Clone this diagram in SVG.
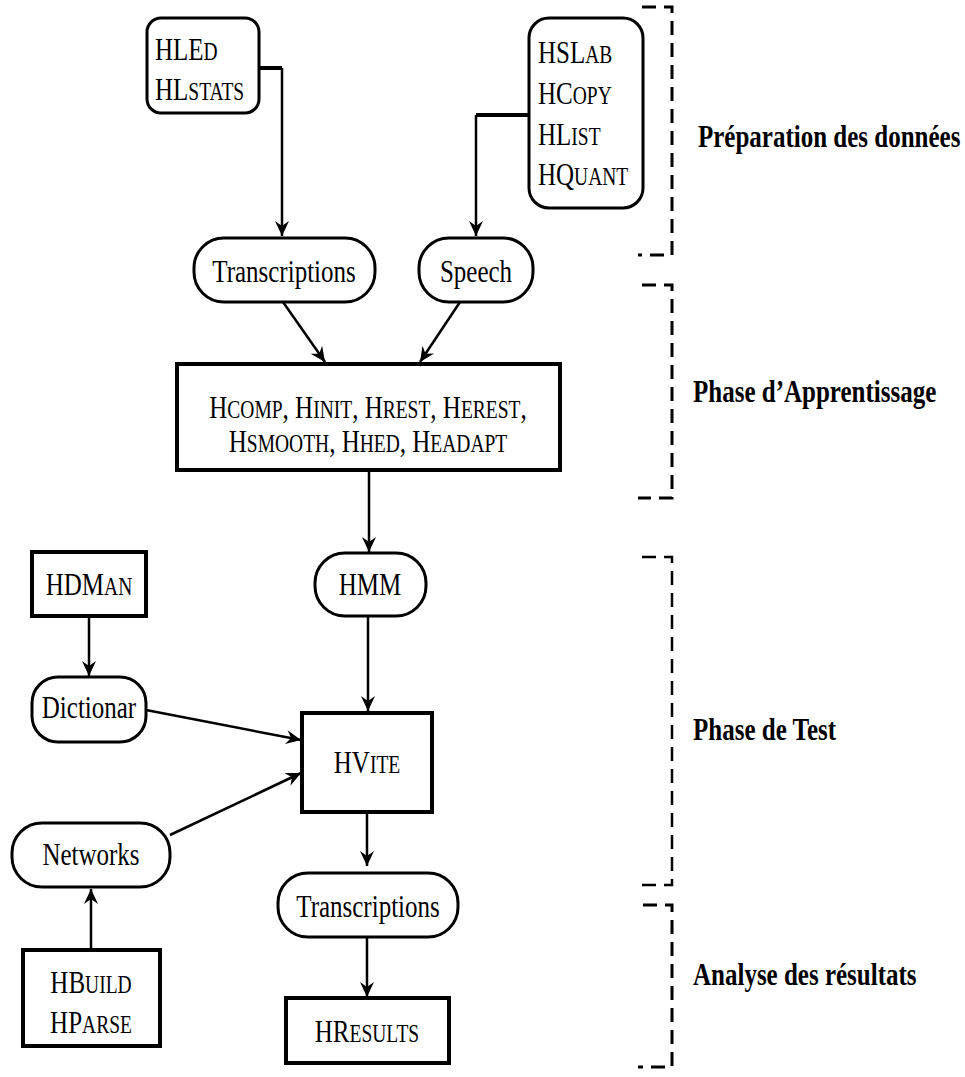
<svg xmlns="http://www.w3.org/2000/svg" width="965" height="1077" viewBox="0 0 965 1077">
<style>
.t{font-family:"Liberation Serif","Times New Roman",serif;font-size:25px;fill:#000}
.sc{font-size:19.5px}
.lbl{font-family:"Liberation Serif","Times New Roman",serif;font-weight:bold;font-size:25px;fill:#000}
.node{fill:#fff;stroke:#000;stroke-width:3}
.box{fill:#fff;stroke:#000;stroke-width:4}
.edge{fill:none;stroke:#000;stroke-width:2.5}
.thick{fill:none;stroke:#000;stroke-width:4}
.br{fill:none;stroke:#000;stroke-width:3;stroke-dasharray:14 8}
.br2{fill:none;stroke:#000;stroke-width:2.5;stroke-dasharray:14 8}
</style>
<defs>
<marker id="ah" markerUnits="userSpaceOnUse" viewBox="-16 -8 17 16" refX="0" refY="0" markerWidth="17" markerHeight="16" orient="auto">
<path d="M0,0 L-15,-7 L-10,0 L-15,7 Z" fill="#000"/>
</marker>
</defs>
<rect width="965" height="1077" fill="#fff"/>

<g id="connectors">
<path class="thick" d="M259,68 H282"/>
<path class="edge" d="M282,68 V236" marker-end="url(#ah)"/>
<path class="thick" d="M529,115 H476"/>
<path class="edge" d="M476,115 V236" marker-end="url(#ah)"/>
<path class="edge" d="M283,302 L325,362" marker-end="url(#ah)"/>
<path class="edge" d="M460,302 L420,362" marker-end="url(#ah)"/>
<path class="edge" d="M369,470 V552" marker-end="url(#ah)"/>
<path class="edge" d="M89,616 V676" marker-end="url(#ah)"/>
<path class="edge" d="M368,616 V711" marker-end="url(#ah)"/>
<path class="edge" d="M146,710 L301,740" marker-end="url(#ah)"/>
<path class="edge" d="M170,835 L301,773" marker-end="url(#ah)"/>
<path class="edge" d="M367,812 V866" marker-end="url(#ah)"/>
<path class="edge" d="M367,937 V997" marker-end="url(#ah)"/>
<path class="edge" d="M91,950 V889" marker-end="url(#ah)"/>
</g>

<g id="hled">
<rect class="node" x="147" y="18" width="112" height="95" rx="14"/>
<text class="t" transform="translate(155,60) scale(1,1.3)">HLE<tspan class="sc">D</tspan></text>
<text class="t" transform="translate(155,100) scale(1,1.3)">HL<tspan class="sc">STATS</tspan></text>
</g>

<g id="hslab">
<rect class="node" x="529" y="18" width="114" height="190" rx="20"/>
<text class="t" transform="translate(538,63) scale(1,1.3)">HSL<tspan class="sc">AB</tspan></text>
<text class="t" transform="translate(538,104) scale(1,1.3)">HC<tspan class="sc">OPY</tspan></text>
<text class="t" transform="translate(538,145) scale(1,1.3)">HL<tspan class="sc">IST</tspan></text>
<text class="t" transform="translate(538,185) scale(1,1.3)">HQ<tspan class="sc">UANT</tspan></text>
</g>

<g id="transcriptions1">
<rect class="node" x="194" y="238" width="181" height="64" rx="30"/>
<text class="t" text-anchor="middle" transform="translate(284,282) scale(1,1.3)">Transcriptions</text>
</g>

<g id="speech">
<rect class="node" x="419" y="238" width="114" height="64" rx="30"/>
<text class="t" text-anchor="middle" transform="translate(476,282) scale(1,1.3)">Speech</text>
</g>

<g id="training">
<rect class="box" x="177" y="364" width="383" height="106"/>
<text class="t" text-anchor="middle" transform="translate(368,418) scale(1,1.3)">H<tspan class="sc">COMP</tspan>, H<tspan class="sc">INIT</tspan>, H<tspan class="sc">REST</tspan>, H<tspan class="sc">EREST</tspan>,</text>
<text class="t" text-anchor="middle" transform="translate(368,452) scale(1,1.3)">H<tspan class="sc">SMOOTH</tspan>, H<tspan class="sc">HED</tspan>, H<tspan class="sc">EADAPT</tspan></text>
</g>

<g id="hmm">
<rect class="node" x="315" y="553" width="111" height="63" rx="30"/>
<text class="t" text-anchor="middle" transform="translate(370,595) scale(1,1.3)">HMM</text>
</g>

<g id="hdman">
<rect class="box" x="32" y="552" width="114" height="64"/>
<text class="t" text-anchor="middle" transform="translate(89,595) scale(1,1.3)">HDM<tspan class="sc">AN</tspan></text>
</g>

<g id="dictionar">
<rect class="node" x="32" y="677" width="114" height="65" rx="26"/>
<text class="t" text-anchor="middle" transform="translate(89,718) scale(1,1.3)">Dictionar</text>
</g>

<g id="hvite">
<rect class="box" x="302" y="713" width="130" height="99"/>
<text class="t" text-anchor="middle" transform="translate(367,773) scale(1,1.3)">HV<tspan class="sc">ITE</tspan></text>
</g>

<g id="networks">
<rect class="node" x="12" y="823" width="158" height="64" rx="30"/>
<text class="t" text-anchor="middle" transform="translate(91,865) scale(1,1.3)">Networks</text>
</g>

<g id="transcriptions2">
<rect class="node" x="278" y="873" width="180" height="64" rx="30"/>
<text class="t" text-anchor="middle" transform="translate(368,917) scale(1,1.3)">Transcriptions</text>
</g>

<g id="hresults">
<rect class="box" x="286" y="998" width="163" height="65"/>
<text class="t" text-anchor="middle" transform="translate(367,1042) scale(1,1.3)">HR<tspan class="sc">ESULTS</tspan></text>
</g>

<g id="hbuild">
<rect class="box" x="23" y="950" width="137" height="96"/>
<text class="t" text-anchor="middle" transform="translate(91,993) scale(1,1.3)">HB<tspan class="sc">UILD</tspan></text>
<text class="t" text-anchor="middle" transform="translate(91,1033) scale(1,1.3)">HP<tspan class="sc">ARSE</tspan></text>
</g>

<g id="phases">
<path class="br" d="M642,7 H672 V255 H638"/>
<path class="br" d="M642,285 H672 V498 H638"/>
<path class="br2" d="M642,557 H672 V885 H638"/>
<path class="br" d="M643,905 H672 V1067 H638"/>
<text class="lbl" transform="translate(698,147) scale(1,1.3)">Préparation des données</text>
<text class="lbl" transform="translate(693,402) scale(1,1.3)">Phase d’Apprentissage</text>
<text class="lbl" transform="translate(693,740) scale(1,1.3)">Phase de Test</text>
<text class="lbl" transform="translate(693,985) scale(1,1.3)">Analyse des résultats</text>
</g>
</svg>
